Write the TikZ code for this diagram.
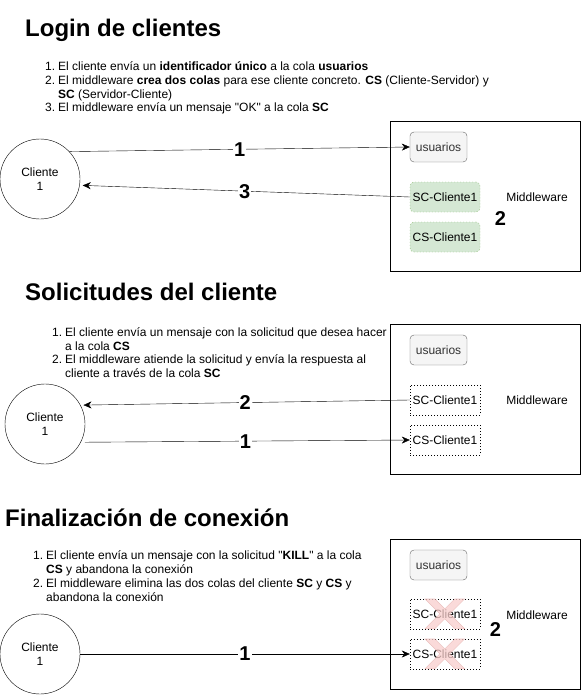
\documentclass[tikz,border=0pt]{standalone}
\usepackage{fontspec}
\setmainfont{Liberation Sans}
\usetikzlibrary{positioning}
\usetikzlibrary{arrows.meta}
\usetikzlibrary{calc}
\definecolor{grayfill}{HTML}{F5F5F5}
\definecolor{graydraw}{HTML}{666666}
\definecolor{graytext}{HTML}{333333}
\definecolor{greenfill}{HTML}{D5E8D4}
\definecolor{greendraw}{HTML}{82B366}
\definecolor{redfill}{HTML}{F8CECC}
\definecolor{reddraw}{HTML}{B85450}
\tikzstyle{client}=[circle,draw,minimum size=80pt,inner sep=0pt,align=center,font=\fontsize{12}{14}\selectfont]
\tikzstyle{mwbox}=[draw,minimum width=190pt,minimum height=150pt,inner sep=0pt]
\tikzstyle{queue}=[rectangle,rounded corners=4pt,fill=grayfill,draw=graydraw,text=graytext,minimum width=57pt,minimum height=30pt,inner sep=0pt,font=\fontsize{12}{14}\selectfont]
\tikzstyle{newqueue}=[rectangle,rounded corners=4pt,fill=greenfill,draw=greendraw,dash pattern=on 1pt off 2pt,minimum width=70pt,minimum height=30pt,inner sep=0pt,font=\fontsize{12}{14}\selectfont]
\tikzstyle{oldqueue}=[rectangle,draw,dash pattern=on 1pt off 2pt,minimum width=70pt,minimum height=30pt,inner sep=0pt,font=\fontsize{12}{14}\selectfont]
\tikzstyle{msg} = [draw,-{Stealth[length=8pt,width=7pt,inset=2.5pt]}]
\tikzstyle{stepnum} = [fill=white,inner sep=1pt,font=\fontsize{20}{20}\bfseries\selectfont]
\tikzstyle{heading} = [anchor=base west,inner sep=0pt,font=\fontsize{24}{28}\bfseries\selectfont]
\tikzstyle{item} = [anchor=base west,inner sep=0pt,font=\fontsize{12}{14}\selectfont]
\tikzstyle{plain} = [font=\fontsize{12}{14}\selectfont]
\tikzstyle{cross} = [fill=redfill,draw=reddraw,fill opacity=0.75,draw opacity=0.25]

\begin{document}
\begin{tikzpicture}[x=1pt,y=-1pt]
  \useasboundingbox (0,0) rectangle (581,695);

% Titles
   \node[heading] (t1) at (25,37) {Login de clientes};
   \node[heading] (t2) at (25,300) {Solicitudes del cliente};
   \node[heading] (t3) at (5,526) {Finalización de conexión};

% Lists
   \def\a{45};  \def\b{58};
   \node[item] (n11) at (\a,71) {1.};
   \node[item] (l11) at (\b,71) {El cliente envía un \textbf{identificador único} a la cola \textbf{usuarios}};
   \node[item] (n12) at (\a,85) {2.};
   \node[item] (l12) at (\b,85) {El middleware \textbf{crea dos colas} para ese cliente concreto. \textbf{CS} (Cliente-Servidor) y};
   \node[item] (l12b) at (\b,99) {\textbf{SC} (Servidor-Cliente)};
   \node[item] (n13) at (\a,112) {3.};
   \node[item] (l13) at (\b,112) {El middleware envía un mensaje \textquotedbl OK\textquotedbl{} a la cola \textbf{SC}};

   \def\a{52};  \def\b{65};
   \node[item] (n21) at (\a,336) {1.};
   \node[item] (l21) at (\b,336) {El cliente envía un mensaje con la solicitud que desea hacer};
   \node[item] (l21b) at (\b,350) {a la cola \textbf{CS}};
   \node[item] (n22) at (\a,363) {2.};
   \node[item] (l22) at (\b,363) {El middleware atiende la solicitud y envía la respuesta al};
   \node[item] (l22b) at (\b,377) {cliente a través de la cola \textbf{SC}};

   \def\a{33};  \def\b{46};
   \node[item] (n31) at (\a,559) {1.};
   \node[item] (l31) at (\b,559) {El cliente envía un mensaje con la solicitud \textquotedbl\textbf{KILL}\textquotedbl{} a la cola};
   \node[item] (l31b) at (\b,573) {\textbf{CS} y abandona la conexión};
   \node[item] (n32) at (\a,587) {2.};
   \node[item] (l32) at (\b,587) {El middleware elimina las dos colas del cliente \textbf{SC} y \textbf{CS} y};
   \node[item] (l32b) at (\b,601) {abandona la conexión};

% Middleware
    \foreach \s/\dy in {1/0, 2/203, 3/418}{
        \node[mwbox] (mw\s) at (485,196+\dy) {};
        \node[queue] (usu\s) at (438.5,147+\dy) {usuarios};
        \node[plain] (mwl\s) at (537,197+\dy) {Middleware};
    }
    \foreach \pos/\name/\label in {{(445,197)/sc1/SC-Cliente1}, {(445,237)/cs1/CS-Cliente1}}
        \node[newqueue] (\name) at \pos {\label};
    \foreach \pos/\name/\label in {{(445,400)/sc2/SC-Cliente1}, {(445,440)/cs2/CS-Cliente1}, {(445,614)/sc3/SC-Cliente1}, {(445,654)/cs3/CS-Cliente1}}
        \node[oldqueue] (\name) at \pos {\label};
    \node[stepnum, fill=none] (mws1) at (500.5,219) {2};
    \node[stepnum, fill=none] (mws3) at (495.5,630) {2};

% Deleted queues
    \foreach \q in {sc3, cs3}
        \draw[cross, shift={($(\q.north west)+(15,0)$)}]
            (0,0) -- (10,0) -- (20,10) -- (30,0) -- (40,0) -- (25,15) -- (40,30) -- (30,30)
            -- (20,20) -- (10,30) -- (0,30) -- (15,15) -- cycle;

% Clients
    \foreach \pos/\name in {{(40,179)/cli1}, {(45,424)/cli2}, {(40,654)/cli3}}
        \node[client] (\name) at \pos {Cliente\\1};

% Edges
    \path[msg] (cli1.43) -- node[stepnum] {1} (usu1.west);
    \path[msg, shorten >=3pt] (sc1.west) -- node[stepnum] {3} (cli1.-9);

    \path[msg, shorten >=3pt] (sc2.west) -- node[stepnum] {2} (cli2.28);
    \path[msg, shorten <=4pt] (cli2.-27) -- node[stepnum] {1} (cs2.west);

    \path[msg] (cli3.east) -- node[stepnum] {1} (cs3.west);

\end{tikzpicture}
\end{document}
